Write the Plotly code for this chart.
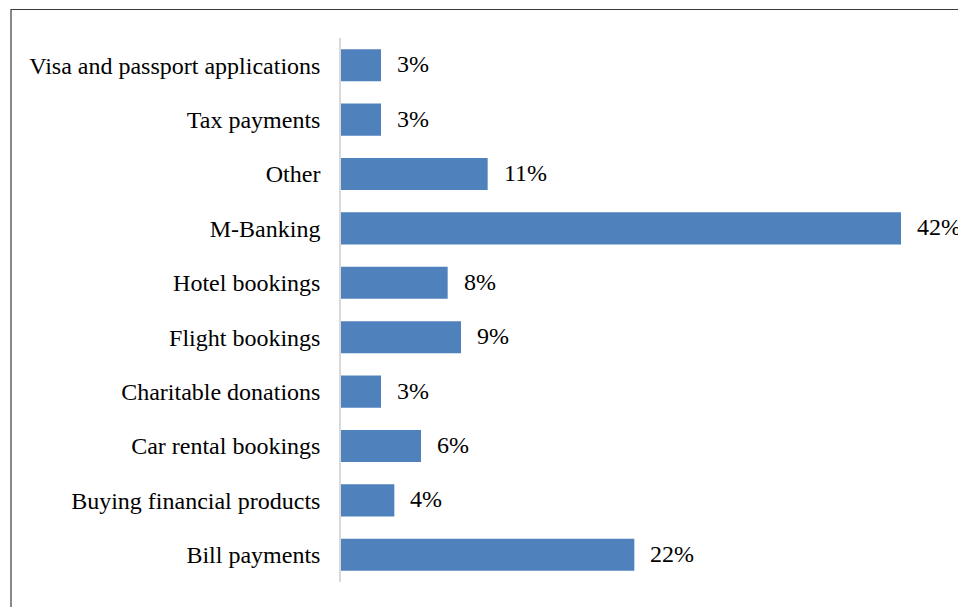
import plotly.graph_objects as go

# Share of respondents using each online service (bottom to top)
categories = [
    "Bill payments",
    "Buying financial products",
    "Car rental bookings",
    "Charitable donations",
    "Flight bookings",
    "Hotel bookings",
    "M-Banking",
    "Other",
    "Tax payments",
    "Visa and passport applications",
]
shares = [22, 4, 6, 3, 9, 8, 42, 11, 3, 3]

FONT = "Liberation Serif, Times New Roman, serif"
BAR_COLOR = "#4F81BD"

fig = go.Figure(
    go.Bar(
        y=categories,
        x=shares,
        orientation="h",
        marker=dict(color=BAR_COLOR, line=dict(width=0)),
        width=0.59,
        hoverinfo="x+y",
    )
)

# Value labels just to the right of each bar
for cat, val in zip(categories, shares):
    fig.add_annotation(
        x=val, y=cat, text=f"{val}%", showarrow=False,
        xanchor="left", yanchor="middle", xshift=14, yshift=1,
        font=dict(family=FONT, size=24, color="#000000"),
    )

L, R, T, B = 341, 0, 38, 25
W, H = 958, 607
plot_w = W - L - R
plot_h = H - T - B
px_per_pct = 560 / 42

# Outer chart frame (left and top edges fall inside the page)
fig.add_shape(
    type="rect", xref="paper", yref="paper",
    x0=(11 - L) / plot_w, x1=1.2,
    y0=-0.3, y1=1 + (T - 9.5) / plot_h,
    line=dict(color="#3a3a3a", width=1.2), fillcolor="rgba(0,0,0,0)",
    layer="above",
)

fig.update_layout(
    width=W, height=H,
    margin=dict(l=L, r=R, t=T, b=B, pad=0),
    paper_bgcolor="white", plot_bgcolor="white",
    showlegend=False,
    font=dict(family=FONT, size=24, color="#000000"),
    xaxis=dict(
        range=[0, plot_w / px_per_pct],
        showgrid=False, zeroline=False, showline=False,
        showticklabels=False, ticks="",
    ),
    yaxis=dict(
        showgrid=False, zeroline=False,
        showline=True, linecolor="#D9D9D9", linewidth=1.5,
        ticks="", ticklabelstandoff=14,
        tickfont=dict(family=FONT, size=24, color="#000000"),
        categoryorder="array", categoryarray=categories,
    ),
)

fig.write_html("out.html")
